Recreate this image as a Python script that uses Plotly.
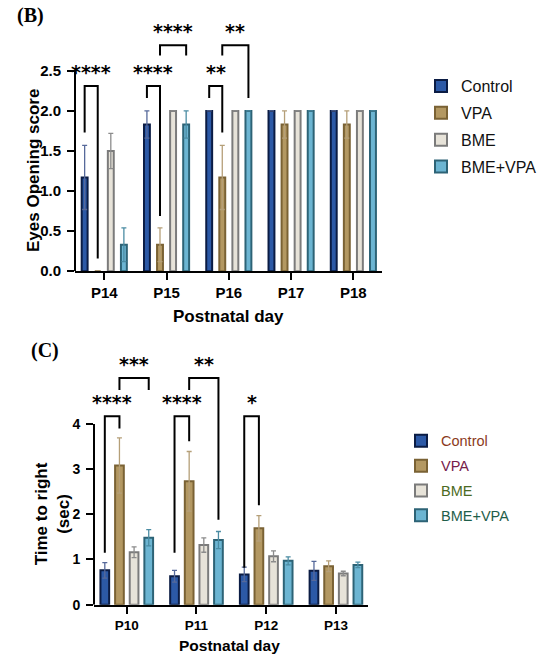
import plotly.graph_objects as go

# ---------------- data ----------------
series = ["Control", "VPA", "BME", "BME+VPA"]

days_B = ["P14", "P15", "P16", "P17", "P18"]
ctrl_B = [1.17, 1.83, 2.0, 2.0, 2.0]
ctrl_B_err = [0.40, 0.17, 0.0, 0.0, 0.0]
vpa_B = [0.0, 0.33, 1.17, 1.83, 1.83]
vpa_B_err = [0.0, 0.21, 0.40, 0.17, 0.17]
bme_B = [1.5, 2.0, 2.0, 2.0, 2.0]
bme_B_err = [0.22, 0.0, 0.0, 0.0, 0.0]
bv_B = [0.33, 1.83, 2.0, 2.0, 2.0]
bv_B_err = [0.21, 0.17, 0.0, 0.0, 0.0]

days_C = ["P10", "P11", "P12", "P13"]
ctrl_C = [0.76, 0.63, 0.67, 0.75]
ctrl_C_err = [0.17, 0.13, 0.16, 0.21]
vpa_C = [3.08, 2.73, 1.69, 0.85]
vpa_C_err = [0.61, 0.66, 0.28, 0.12]
bme_C = [1.16, 1.32, 1.07, 0.69]
bme_C_err = [0.12, 0.16, 0.12, 0.05]
bv_C = [1.48, 1.43, 0.97, 0.88]
bv_C_err = [0.18, 0.19, 0.09, 0.06]

# significance brackets: (category index, from series, to series, top, left leg end, right leg end, label)
sig_B = [
    (0, 0, 1, 2.31, 1.73, 0.16, "****"),
    (1, 0, 1, 2.31, 2.16, 0.69, "****"),
    (1, 1, 3, 2.82, 2.69, 2.69, "****"),
    (2, 0, 1, 2.31, 2.16, 1.73, "**"),
    (2, 1, 3, 2.82, 2.69, 2.16, "**"),
]
sig_C = [
    (0, 0, 1, 4.17, 1.15, 3.90, "****"),
    (0, 1, 3, 5.02, 4.75, 4.75, "***"),
    (1, 0, 1, 4.17, 1.15, 3.62, "****"),
    (1, 1, 3, 5.02, 4.75, 1.88, "**"),
    (2, 0, 1, 4.17, 0.82, 2.20, "*"),
]

# ---------------- style ----------------
fills = ["#2c59a6", "#b39862", "#e7e3d9", "#6cb5d2"]
borders = ["#0b1c44", "#7a6234", "#7b7b7b", "#2d6376"]
errc = ["#56699a", "#b59f78", "#8c8c8c", "#4b8ca3"]
leg_txt_C = ["#8b3a1c", "#76204a", "#4c6a23", "#1f5e4a"]

BARGAP = 0.16
SLOT = (1 - BARGAP) / 4
FONT = "Liberation Sans"

fig = go.Figure()

vals_B = [(ctrl_B, ctrl_B_err), (vpa_B, vpa_B_err), (bme_B, bme_B_err), (bv_B, bv_B_err)]
vals_C = [(ctrl_C, ctrl_C_err), (vpa_C, vpa_C_err), (bme_C, bme_C_err), (bv_C, bv_C_err)]

for i, (v, e) in enumerate(vals_B):
    fig.add_trace(go.Bar(
        x=list(range(len(days_B))), y=v, name=series[i],
        marker=dict(color=fills[i], line=dict(color=borders[i], width=2)),
        width=0.095,
        error_y=dict(type="data", array=e, symmetric=True, color=errc[i], thickness=1.3, width=2.5),
        xaxis="x", yaxis="y", legend="legend", legendgroup="B%d" % i,
    ))

for i, (v, e) in enumerate(vals_C):
    fig.add_trace(go.Bar(
        x=list(range(len(days_C))), y=v,
        name="<span style='color:%s'>%s</span>" % (leg_txt_C[i], series[i]),
        marker=dict(color=fills[i], line=dict(color=borders[i], width=2)),
        width=0.125,
        error_y=dict(type="data", array=e, symmetric=True, color=errc[i], thickness=1.3, width=2.5),
        xaxis="x2", yaxis="y2", legend="legend2", legendgroup="C%d" % i,
    ))

shapes = []
annos = []


def add_brackets(sig, xref, yref):
    for cat, a, b, top, l_end, r_end, lab in sig:
        xa = cat + (a - 1.5) * SLOT
        xb = cat + (b - 1.5) * SLOT
        shapes.append(dict(
            type="path", xref=xref, yref=yref,
            path="M %f,%f L %f,%f L %f,%f L %f,%f" % (xa, l_end, xa, top, xb, top, xb, r_end),
            line=dict(color="black", width=2),
        ))
        annos.append(dict(
            x=(xa + xb) / 2, y=top, xref=xref, yref=yref, text="<b>%s</b>" % lab,
            showarrow=False, xanchor="center", yanchor="bottom", yshift=1,
            font=dict(family="DejaVu Sans", size=19, color="black"),
        ))


add_brackets(sig_B, "x", "y")
add_brackets(sig_C, "x2", "y2")

# y axis lines limited to the labelled range
shapes.append(dict(type="line", xref="x domain", yref="y", x0=0, x1=0, y0=0, y1=2.5,
                   line=dict(color="black", width=2)))
shapes.append(dict(type="line", xref="x2 domain", yref="y2", x0=0, x1=0, y0=0, y1=4,
                   line=dict(color="black", width=2)))

# titles
ttl = dict(showarrow=False, xanchor="center", yanchor="middle")
annos += [
    dict(text="<b>Eyes Opening score</b>", x=33 / 550, xref="paper", y=1.25, yref="y",
         textangle=-90, font=dict(family=FONT, size=17, color="black"), **ttl),
    dict(text="<b>Postnatal day</b>", x=228 / 550, xref="paper", y=1 - 320 / 669, yref="paper",
         font=dict(family=FONT, size=17, color="black"), **ttl),
    dict(text="<b>Time to right<br>(sec)</b>", x=52 / 550, xref="paper", y=2, yref="y2",
         textangle=-90, font=dict(family=FONT, size=17, color="black"), **ttl),
    dict(text="<b>Postnatal day</b>", x=230 / 550, xref="paper", y=1 - 653 / 669, yref="paper",
         font=dict(family=FONT, size=15.5, color="black"), **ttl),
    dict(text="<b>(B)</b>", x=30 / 550, xref="paper", y=1 - 16 / 669, yref="paper",
         font=dict(family="Liberation Serif", size=20, color="black"), **ttl),
    dict(text="<b>(C)</b>", x=45 / 550, xref="paper", y=1 - 355 / 669, yref="paper",
         font=dict(family="Liberation Serif", size=20, color="black"), **ttl),
]

tick_common = dict(ticks="outside", ticklen=7, tickwidth=2, tickcolor="black",
                   showgrid=False, zeroline=False)

fig.update_layout(
    width=550, height=669,
    margin=dict(l=0, r=0, t=0, b=0),
    paper_bgcolor="white", plot_bgcolor="white",
    barmode="group", bargap=BARGAP, bargroupgap=0,
    shapes=shapes, annotations=annos,
    xaxis=dict(domain=[75 / 550, 382 / 550], anchor="y", range=[-0.47, 4.46],
               tickvals=list(range(len(days_B))), ticktext=days_B,
               showline=True, linewidth=2, linecolor="black",
               tickfont=dict(family=FONT, size=15, color="black", weight="bold"), **tick_common),
    yaxis=dict(domain=[1 - 274.5 / 669, 1 - 23 / 669], anchor="x", range=[0, 3.1],
               tickvals=[0, 0.5, 1.0, 1.5, 2.0, 2.5], ticktext=["0.0", "0.5", "1.0", "1.5", "2.0", "2.5"],
               showline=False, ticklabelstandoff=3,
               tickfont=dict(family=FONT, size=15, color="black", weight="bold"), **tick_common),
    xaxis2=dict(domain=[94 / 550, 368 / 550], anchor="y2", range=[-0.47, 3.46],
                tickvals=list(range(len(days_C))), ticktext=days_C,
                showline=True, linewidth=2, linecolor="black",
                tickfont=dict(family=FONT, size=13.5, color="black", weight="bold"), **tick_common),
    yaxis2=dict(domain=[1 - 612 / 669, 1 - 360.5 / 669], anchor="x2", range=[0, 5.5],
                tickvals=[0, 1, 2, 3, 4], showline=False, ticklabelstandoff=3,
                tickfont=dict(family=FONT, size=14, color="black", weight="bold"), **tick_common),
    legend=dict(x=421 / 550, y=1 - 70 / 669, xanchor="left", yanchor="top",
                font=dict(family=FONT, size=16, color="#111111"),
                tracegroupgap=3, bgcolor="rgba(0,0,0,0)"),
    legend2=dict(x=401 / 550, y=1 - 430 / 669, xanchor="left", yanchor="top",
                 font=dict(family=FONT, size=14.5, color="#111111"),
                 tracegroupgap=3, bgcolor="rgba(0,0,0,0)"),
)

fig.write_html("out.html", config={"displayModeBar": False},
               post_script="document.body.style.margin='0';document.body.style.overflow='hidden';")
